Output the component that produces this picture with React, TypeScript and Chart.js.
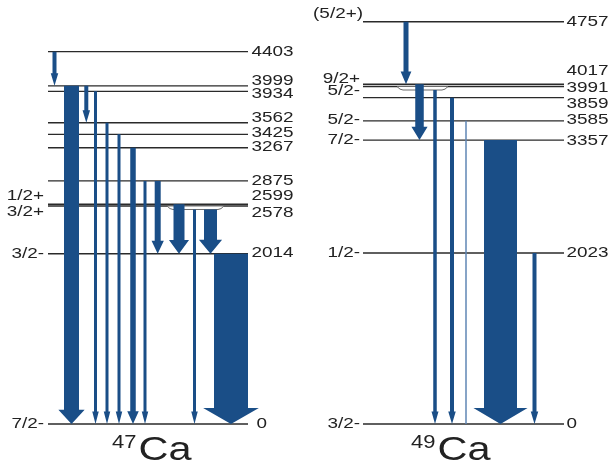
import { useEffect, useRef } from "react";
import { Chart, registerables } from "chart.js";

Chart.register(...registerables);

// ---- 47Ca level scheme (energies in keV) ----
const ca47Energies = [0, 2014, 2578, 2599, 2875, 3267, 3425, 3562, 3934, 3999, 4403];
const ca47Spins = ["7/2-", "3/2-", "3/2+", "1/2+", "", "", "", "", "", "", ""];
const ca47From = [4403, 3999, 3999, 3934, 3562, 3425, 3267, 2875, 2875, 2599, 2578, 2578, 2014];
const ca47To = [3999, 0, 3562, 0, 0, 0, 0, 0, 2014, 2014, 0, 2014, 0];
const ca47Intensity = [4, 15, 4, 3, 3, 3, 5.5, 3, 6, 11, 3, 13, 34];

// ---- 49Ca level scheme (energies in keV) ----
const ca49Energies = [0, 2023, 3357, 3585, 3859, 3991, 4017, 4757];
const ca49Spins = ["3/2-", "1/2-", "7/2-", "5/2-", "", "5/2-", "9/2+", "(5/2+)"];
const ca49From = [4757, 4017, 3991, 3859, 3585, 3357, 2023];
const ca49To = [4017, 3357, 0, 0, 0, 0, 0];
const ca49Intensity = [5, 8.5, 3.5, 4, 1.5, 33, 4];

// ---- drawing layout (horizontal slots, label nudges in px) ----
const ca47Columns = [54.5, 71.5, 86.3, 95.5, 107, 119, 133, 145, 157.7, 179, 194.5, 210.5, 231];
const ca49Columns = [406, 419.5, 435, 452, 466, 500.5, 534.5];
const ca47EnergyNudge = [0, -1, 6.7, -8.5, 0, -1, -2, -5, 2.4, -5.5, 0];
const ca47SpinNudge = [0, 0, 6, -9, 0, 0, 0, 0, 0, 0, 0];
const ca49EnergyNudge = [0, 0, 0.5, -1.5, 6, 0.8, -14, 0];
const ca49SpinNudge = [0, 0, 0, -1, 0, 4, -6, -8.5];

const ARROW_COLOR = "#1a4e87";
const FAINT_COLOR = "#5f86b4";
const LEVEL_COLOR = "#2a2a2a";
const TEXT_COLOR = "#222222";
const FONT = '"Liberation Sans", Arial, Helvetica, sans-serif';
const TEXT_STRETCH = 1.22;

type Panel = {
  name: string;
  mass: string;
  energies: number[];
  spins: string[];
  from: number[];
  to: number[];
  intensity: number[];
  columns: number[];
  energyNudge: number[];
  spinNudge: number[];
  lineX: [number, number];
  spinX: number;
  energyX: number;
  nuclideX: number;
  split: { energy: number; x0: number; x1: number };
};

const panels: Panel[] = [
  {
    name: "Ca",
    mass: "47",
    energies: ca47Energies,
    spins: ca47Spins,
    from: ca47From,
    to: ca47To,
    intensity: ca47Intensity,
    columns: ca47Columns,
    energyNudge: ca47EnergyNudge,
    spinNudge: ca47SpinNudge,
    lineX: [48, 248],
    spinX: 44,
    energyX: 251.5,
    nuclideX: 112,
    split: { energy: 2578, x0: 167, x1: 224 },
  },
  {
    name: "Ca",
    mass: "49",
    energies: ca49Energies,
    spins: ca49Spins,
    from: ca49From,
    to: ca49To,
    intensity: ca49Intensity,
    columns: ca49Columns,
    energyNudge: ca49EnergyNudge,
    spinNudge: ca49SpinNudge,
    lineX: [363, 564],
    spinX: 360,
    energyX: 566.5,
    nuclideX: 411,
    split: { energy: 3991, x0: 397, x1: 448 },
  },
];

const SPLIT_DEPTH = 3.5;

function stretchedText(
  ctx: CanvasRenderingContext2D,
  text: string,
  x: number,
  y: number,
  px: number,
  align: CanvasTextAlign,
  baseline: CanvasTextBaseline = "middle",
  sx = TEXT_STRETCH
) {
  ctx.save();
  ctx.font = `${px}px ${FONT}`;
  ctx.fillStyle = TEXT_COLOR;
  ctx.textAlign = align;
  ctx.textBaseline = baseline;
  ctx.translate(x, y);
  ctx.scale(sx, 1);
  ctx.fillText(text, 0, 0);
  const w = ctx.measureText(text).width * sx;
  ctx.restore();
  return w;
}

function drawArrow(
  ctx: CanvasRenderingContext2D,
  xc: number,
  yTop: number,
  yTip: number,
  w: number,
  color: string,
  withHead: boolean
) {
  const hw = w <= 4.5 ? w + 3.5 : w * 1.55 + 3;
  const hl = 12 + Math.min(4, w * 0.15);
  ctx.save();
  ctx.fillStyle = color;
  ctx.beginPath();
  if (!withHead) {
    ctx.rect(xc - w / 2, yTop, w, yTip - yTop);
  } else {
    const yNeck = yTip - hl;
    ctx.moveTo(xc - w / 2, yTop);
    ctx.lineTo(xc + w / 2, yTop);
    ctx.lineTo(xc + w / 2, yNeck);
    ctx.lineTo(xc + hw / 2, yNeck);
    ctx.lineTo(xc, yTip);
    ctx.lineTo(xc - hw / 2, yNeck);
    ctx.lineTo(xc - w / 2, yNeck);
    ctx.closePath();
  }
  ctx.fill();
  ctx.restore();
}

const schemePlugin = {
  id: "levelScheme",
  afterDatasetsDraw(chart: Chart) {
    const ctx = chart.ctx;
    const xs = chart.scales.x;
    const ys = chart.scales.y;
    for (const p of panels) {
      // split-off marker for the lower of two close-lying levels
      const ySplit = ys.getPixelForValue(p.split.energy);
      const sx0 = xs.getPixelForValue(p.split.x0);
      const sx1 = xs.getPixelForValue(p.split.x1);
      ctx.save();
      ctx.beginPath();
      ctx.moveTo(sx0, ySplit);
      ctx.quadraticCurveTo(sx0 + 3, ySplit + SPLIT_DEPTH, sx0 + 6, ySplit + SPLIT_DEPTH);
      ctx.lineTo(sx1 - 6, ySplit + SPLIT_DEPTH);
      ctx.quadraticCurveTo(sx1 - 3, ySplit + SPLIT_DEPTH, sx1, ySplit);
      ctx.closePath();
      ctx.fillStyle = "#ffffff";
      ctx.fill();
      ctx.strokeStyle = "#6b6b6b";
      ctx.lineWidth = 1;
      ctx.stroke();
      ctx.restore();

      // gamma-ray transitions
      p.from.forEach((ei, i) => {
        const ef = p.to[i];
        const xc = xs.getPixelForValue(p.columns[i]);
        let yTop = ys.getPixelForValue(ei);
        if (ei === p.split.energy && p.columns[i] > p.split.x0 && p.columns[i] < p.split.x1) {
          yTop += SPLIT_DEPTH;
        }
        const yTip = ys.getPixelForValue(ef);
        const w = p.intensity[i];
        const faint = w < 2;
        drawArrow(ctx, xc, yTop, yTip, w, faint ? FAINT_COLOR : ARROW_COLOR, !faint);
      });

      // level labels
      p.energies.forEach((e, i) => {
        const y = ys.getPixelForValue(e);
        const dx = e === 0 && p.mass === "47" ? 5 : 0;
        stretchedText(ctx, String(e), p.energyX + dx, y + p.energyNudge[i], 15.5, "left");
        if (p.spins[i]) {
          const extra = p.spins[i].startsWith("(") ? 3 : 0;
          stretchedText(ctx, p.spins[i], p.spinX + extra, y + p.spinNudge[i], 15.5, "right");
        }
      });

      // nuclide name with mass number
      const base = 460;
      const wMass = stretchedText(ctx, p.mass, p.nuclideX, base - 12, 18, "left", "alphabetic");
      stretchedText(ctx, p.name, p.nuclideX + wMass + 2, base, 34, "left", "alphabetic");
    }
  },
};

export default function App() {
  const canvasRef = useRef<HTMLCanvasElement | null>(null);

  useEffect(() => {
    const canvas = canvasRef.current;
    if (!canvas) return;

    const levelSets = panels.flatMap((p) =>
      p.energies.map((e) => ({
        label: `${p.mass}${p.name} ${e}`,
        data: [
          { x: p.lineX[0], y: e },
          { x: p.lineX[1], y: e },
        ],
        showLine: true,
        borderColor: LEVEL_COLOR,
        borderWidth: 1.4,
        pointRadius: 0,
        pointHoverRadius: 0,
        fill: false,
      }))
    );

    const chart = new Chart(canvas, {
      type: "scatter",
      data: { datasets: levelSets },
      options: {
        animation: false,
        responsive: false,
        devicePixelRatio: 1,
        events: [],
        layout: { padding: 0 },
        plugins: { legend: { display: false }, tooltip: { enabled: false } },
        scales: {
          x: { type: "linear", min: 0, max: 610, display: false },
          y: { type: "linear", min: -473, max: 5014, display: false },
        },
      },
      plugins: [schemePlugin],
    });

    return () => chart.destroy();
  }, []);

  return (
    <div style={{ position: "absolute", left: 0, top: 0, width: 610, height: 464, background: "#fff" }}>
      <canvas ref={canvasRef} width={610} height={464} style={{ display: "block" }} />
    </div>
  );
}
